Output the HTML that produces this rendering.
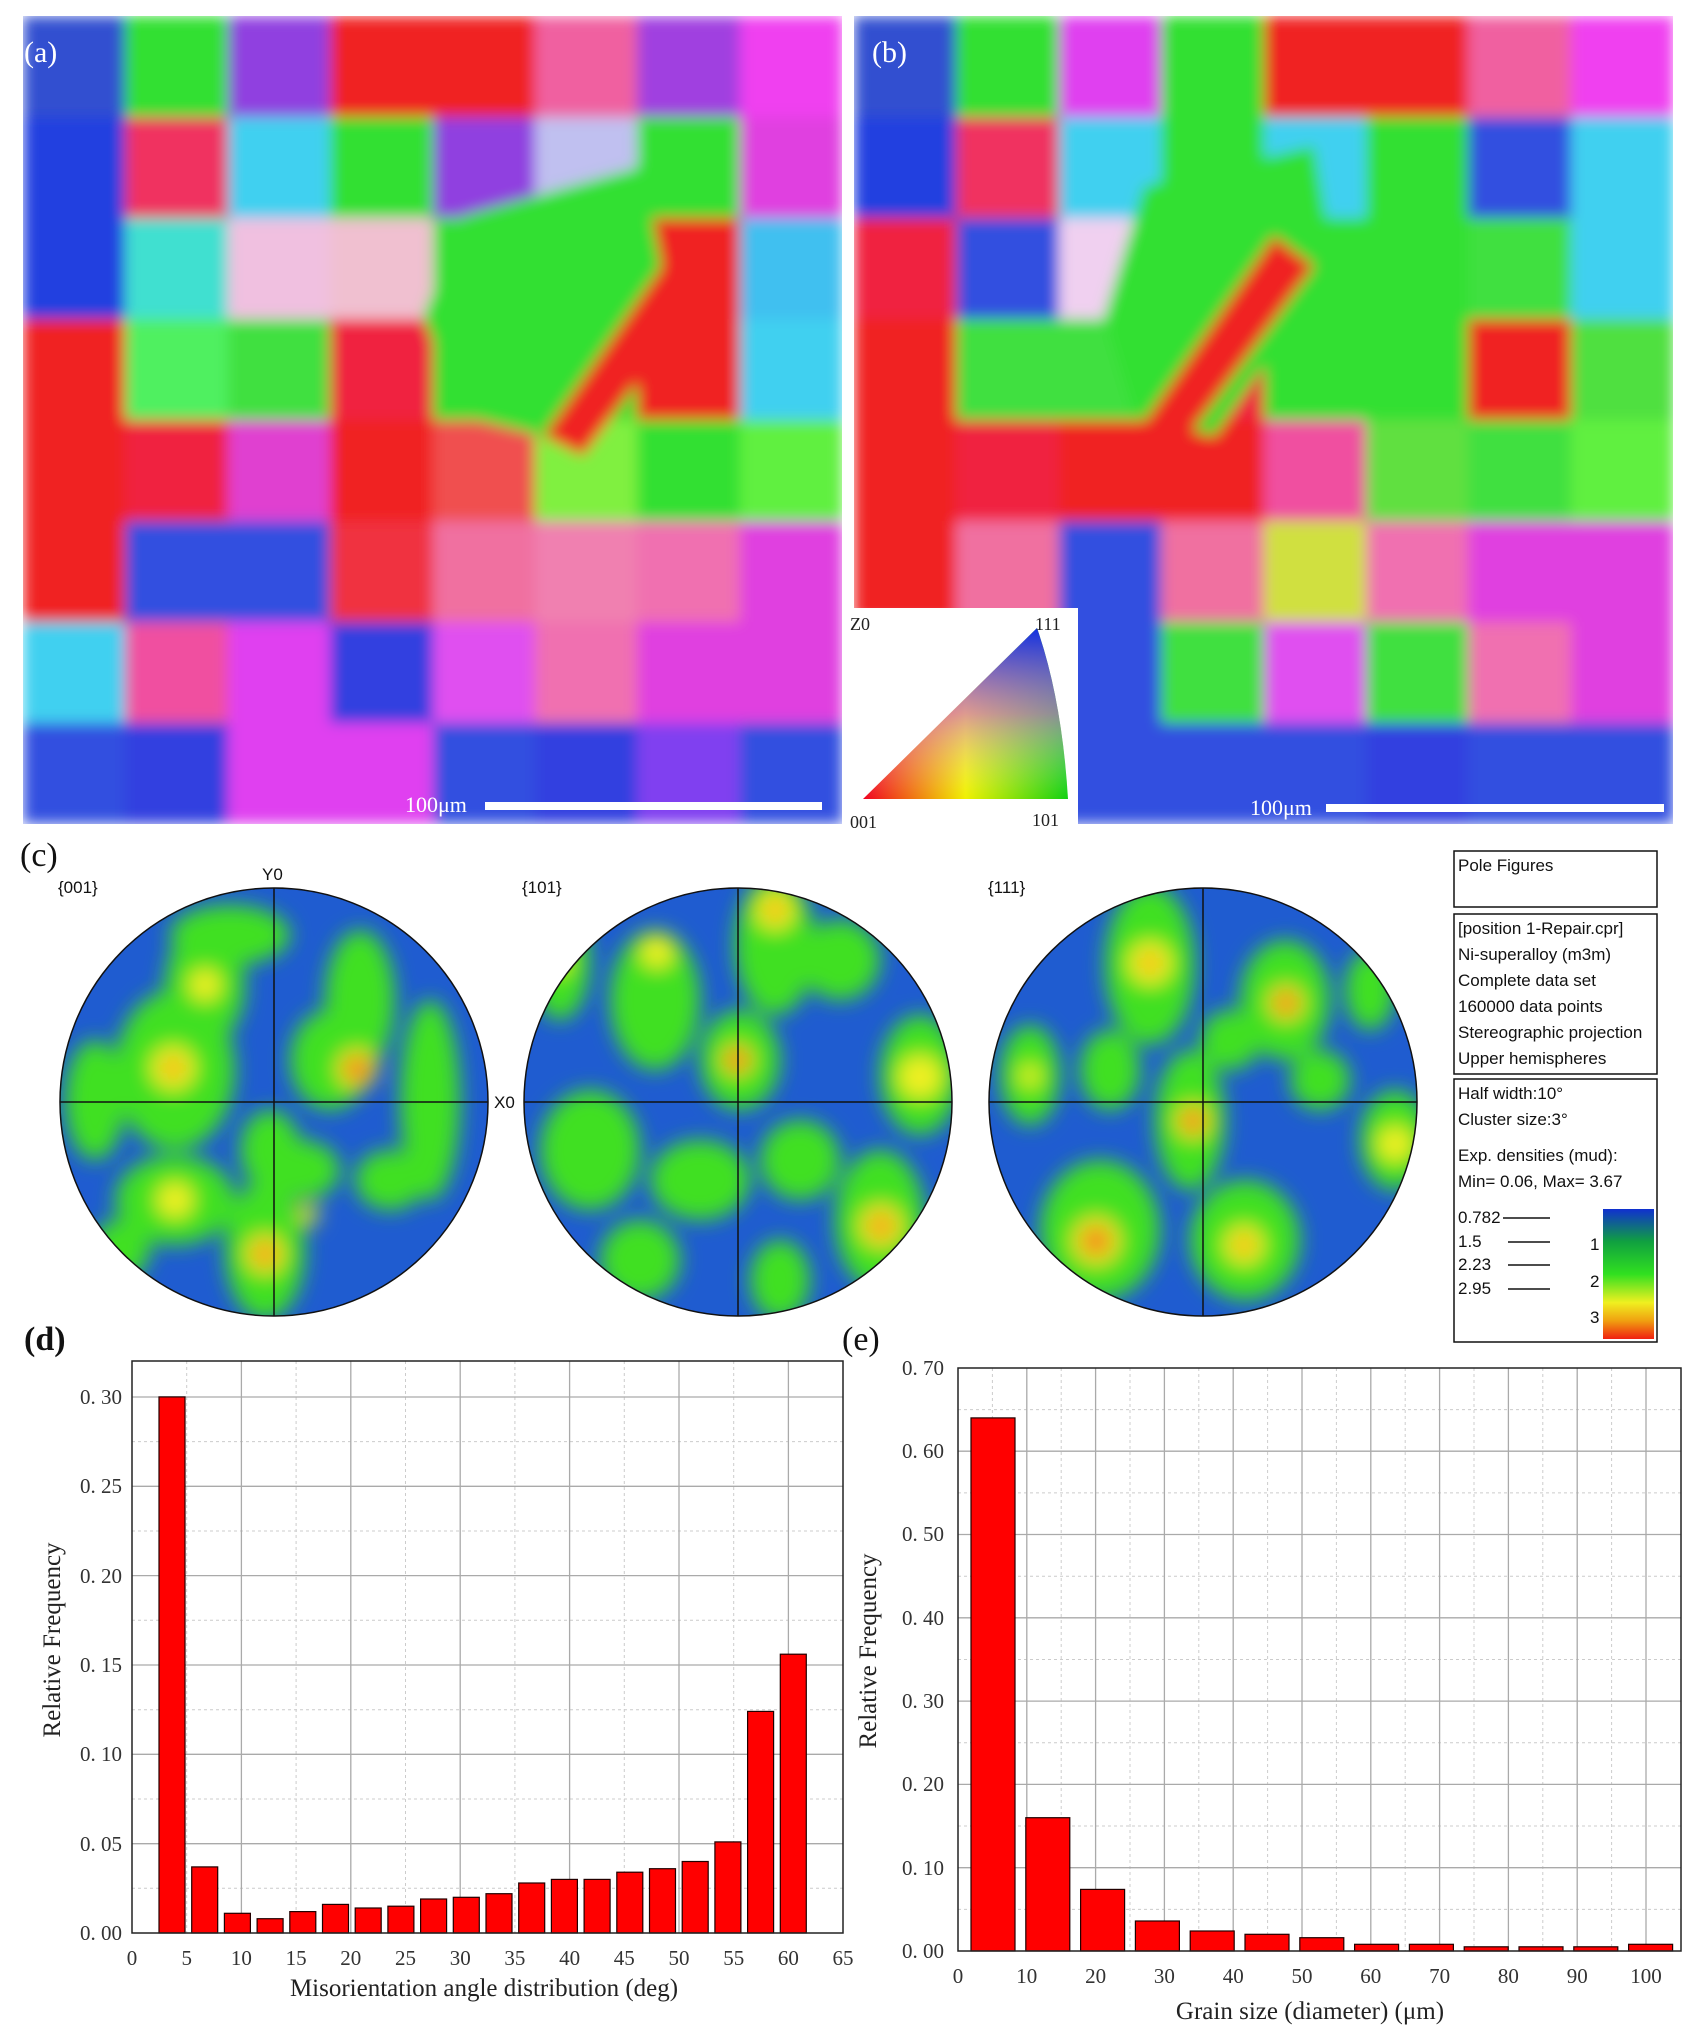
<!DOCTYPE html><html><head><meta charset="utf-8"><style>
body{margin:0;background:#fff;}
svg{display:block}
text{font-family:"Liberation Serif",serif;}
.t{font-family:"Liberation Sans",sans-serif;font-size:17px;fill:#111;}
.tk{font-family:"Liberation Serif",serif;font-size:21px;fill:#333;}
</style></head><body>
<svg width="1689" height="2044" viewBox="0 0 1689 2044" xmlns="http://www.w3.org/2000/svg">
<defs>
<filter id="bl" x="-5%" y="-5%" width="110%" height="110%"><feGaussianBlur stdDeviation="7"/></filter>
<filter id="pb" x="-20%" y="-20%" width="140%" height="140%"><feGaussianBlur stdDeviation="10"/></filter>
<clipPath id="ca"><rect x="23" y="16" width="819" height="808"/></clipPath>
<clipPath id="cb"><rect x="854" y="16" width="819" height="808"/></clipPath>
<clipPath id="p1"><circle cx="274" cy="1102" r="214"/></clipPath>
<clipPath id="p2"><circle cx="738" cy="1102" r="214"/></clipPath>
<clipPath id="p3"><circle cx="1203" cy="1102" r="214"/></clipPath>
<linearGradient id="cbar" x1="0" y1="0" x2="0" y2="1">
<stop offset="0" stop-color="#1030d0"/><stop offset="0.25" stop-color="#10a040"/><stop offset="0.5" stop-color="#30e020"/><stop offset="0.72" stop-color="#f0f020"/><stop offset="0.86" stop-color="#f0a010"/><stop offset="1" stop-color="#f02010"/></linearGradient>
<linearGradient id="ipf1" x1="0" y1="1" x2="1" y2="1"><stop offset="0" stop-color="#f00020"/><stop offset="0.5" stop-color="#f0f000"/><stop offset="1" stop-color="#10d010"/></linearGradient>
<linearGradient id="ipf2" x1="0" y1="1" x2="0" y2="0"><stop offset="0" stop-color="#fff" stop-opacity="0"/><stop offset="0.5" stop-color="#d060f0" stop-opacity="0.6"/><stop offset="1" stop-color="#1030e0" stop-opacity="1"/></linearGradient>
</defs>

<!-- map a -->
<g clip-path="url(#ca)"><g filter="url(#bl)">
<g transform="translate(23,16)">
<rect x="0" y="0" width="103" height="101" fill="#3050d0"/><rect x="102" y="0" width="103" height="101" fill="#30e030"/><rect x="205" y="0" width="103" height="101" fill="#9040e0"/><rect x="307" y="0" width="103" height="101" fill="#f02020"/><rect x="410" y="0" width="103" height="101" fill="#f02020"/><rect x="512" y="0" width="103" height="101" fill="#f060a0"/><rect x="614" y="0" width="103" height="101" fill="#a040e0"/><rect x="717" y="0" width="103" height="101" fill="#f040f0"/>
<rect x="0" y="101" width="103" height="101" fill="#2040e0"/><rect x="102" y="101" width="103" height="101" fill="#f03060"/><rect x="205" y="101" width="103" height="101" fill="#40d0f0"/><rect x="307" y="101" width="103" height="101" fill="#30e030"/><rect x="410" y="101" width="103" height="101" fill="#9040e0"/><rect x="512" y="101" width="103" height="101" fill="#c0c0f0"/><rect x="614" y="101" width="103" height="101" fill="#30e030"/><rect x="717" y="101" width="103" height="101" fill="#e040e0"/>
<rect x="0" y="202" width="103" height="101" fill="#2040e0"/><rect x="102" y="202" width="103" height="101" fill="#40e0d0"/><rect x="205" y="202" width="103" height="101" fill="#f0c0e0"/><rect x="307" y="202" width="103" height="101" fill="#f0c0d0"/><rect x="410" y="202" width="103" height="101" fill="#30e030"/><rect x="512" y="202" width="103" height="101" fill="#30e030"/><rect x="614" y="202" width="103" height="101" fill="#f02020"/><rect x="717" y="202" width="103" height="101" fill="#40c0f0"/>
<rect x="0" y="303" width="103" height="101" fill="#f02020"/><rect x="102" y="303" width="103" height="101" fill="#50f060"/><rect x="205" y="303" width="103" height="101" fill="#40e040"/><rect x="307" y="303" width="103" height="101" fill="#f02040"/><rect x="410" y="303" width="103" height="101" fill="#30e030"/><rect x="512" y="303" width="103" height="101" fill="#30e030"/><rect x="614" y="303" width="103" height="101" fill="#f02020"/><rect x="717" y="303" width="103" height="101" fill="#40d0f0"/>
<rect x="0" y="404" width="103" height="101" fill="#f02020"/><rect x="102" y="404" width="103" height="101" fill="#f02040"/><rect x="205" y="404" width="103" height="101" fill="#e040d0"/><rect x="307" y="404" width="103" height="101" fill="#f02020"/><rect x="410" y="404" width="103" height="101" fill="#f05050"/><rect x="512" y="404" width="103" height="101" fill="#80f040"/><rect x="614" y="404" width="103" height="101" fill="#30e030"/><rect x="717" y="404" width="103" height="101" fill="#60f040"/>
<rect x="0" y="505" width="103" height="101" fill="#f02020"/><rect x="102" y="505" width="103" height="101" fill="#3050e0"/><rect x="205" y="505" width="103" height="101" fill="#3050e0"/><rect x="307" y="505" width="103" height="101" fill="#f03040"/><rect x="410" y="505" width="103" height="101" fill="#f070a0"/><rect x="512" y="505" width="103" height="101" fill="#f080b0"/><rect x="614" y="505" width="103" height="101" fill="#f070b0"/><rect x="717" y="505" width="103" height="101" fill="#e040e0"/>
<rect x="0" y="606" width="103" height="101" fill="#40d0f0"/><rect x="102" y="606" width="103" height="101" fill="#f050a0"/><rect x="205" y="606" width="103" height="101" fill="#e040f0"/><rect x="307" y="606" width="103" height="101" fill="#3040e0"/><rect x="410" y="606" width="103" height="101" fill="#e050f0"/><rect x="512" y="606" width="103" height="101" fill="#f070b0"/><rect x="614" y="606" width="103" height="101" fill="#e040e0"/><rect x="717" y="606" width="103" height="101" fill="#e040e0"/>
<rect x="0" y="707" width="103" height="101" fill="#3050e0"/><rect x="102" y="707" width="103" height="101" fill="#3040e0"/><rect x="205" y="707" width="103" height="101" fill="#e040f0"/><rect x="307" y="707" width="103" height="101" fill="#e040f0"/><rect x="410" y="707" width="103" height="101" fill="#3050e0"/><rect x="512" y="707" width="103" height="101" fill="#3040e0"/><rect x="614" y="707" width="103" height="101" fill="#8040f0"/><rect x="717" y="707" width="103" height="101" fill="#3050e0"/>
<polygon points="440,200 620,150 640,260 520,420 440,400 400,300" fill="#30e030"/>
<polygon points="660,220 700,250 560,440 520,420" fill="#f02020"/>
</g></g></g>
<text x="24" y="62" font-size="30" fill="#fff">(a)</text>
<text x="405" y="812" font-size="22" fill="#fff">100μm</text>
<rect x="485" y="802" width="337" height="8" fill="#fff"/>

<!-- map b -->
<g clip-path="url(#cb)"><g filter="url(#bl)">
<g transform="translate(854,16)">
<rect x="0" y="0" width="103" height="101" fill="#3050d0"/><rect x="102" y="0" width="103" height="101" fill="#30e030"/><rect x="205" y="0" width="103" height="101" fill="#e040f0"/><rect x="307" y="0" width="103" height="101" fill="#30e030"/><rect x="410" y="0" width="103" height="101" fill="#f02020"/><rect x="512" y="0" width="103" height="101" fill="#f02020"/><rect x="614" y="0" width="103" height="101" fill="#f060a0"/><rect x="717" y="0" width="103" height="101" fill="#f040f0"/>
<rect x="0" y="101" width="103" height="101" fill="#2040e0"/><rect x="102" y="101" width="103" height="101" fill="#f03060"/><rect x="205" y="101" width="103" height="101" fill="#40d0f0"/><rect x="307" y="101" width="103" height="101" fill="#30e030"/><rect x="410" y="101" width="103" height="101" fill="#40d0f0"/><rect x="512" y="101" width="103" height="101" fill="#30e030"/><rect x="614" y="101" width="103" height="101" fill="#3050e0"/><rect x="717" y="101" width="103" height="101" fill="#40d0f0"/>
<rect x="0" y="202" width="103" height="101" fill="#f02040"/><rect x="102" y="202" width="103" height="101" fill="#3050e0"/><rect x="205" y="202" width="103" height="101" fill="#f0d0f0"/><rect x="307" y="202" width="103" height="101" fill="#40e040"/><rect x="410" y="202" width="103" height="101" fill="#30e030"/><rect x="512" y="202" width="103" height="101" fill="#30e030"/><rect x="614" y="202" width="103" height="101" fill="#40e040"/><rect x="717" y="202" width="103" height="101" fill="#40d0f0"/>
<rect x="0" y="303" width="103" height="101" fill="#f02020"/><rect x="102" y="303" width="103" height="101" fill="#40e040"/><rect x="205" y="303" width="103" height="101" fill="#40e040"/><rect x="307" y="303" width="103" height="101" fill="#f02040"/><rect x="410" y="303" width="103" height="101" fill="#30e030"/><rect x="512" y="303" width="103" height="101" fill="#30e030"/><rect x="614" y="303" width="103" height="101" fill="#f02020"/><rect x="717" y="303" width="103" height="101" fill="#50e040"/>
<rect x="0" y="404" width="103" height="101" fill="#f02020"/><rect x="102" y="404" width="103" height="101" fill="#f02040"/><rect x="205" y="404" width="103" height="101" fill="#f02020"/><rect x="307" y="404" width="103" height="101" fill="#f02020"/><rect x="410" y="404" width="103" height="101" fill="#f050a0"/><rect x="512" y="404" width="103" height="101" fill="#60e040"/><rect x="614" y="404" width="103" height="101" fill="#40e040"/><rect x="717" y="404" width="103" height="101" fill="#60f040"/>
<rect x="0" y="505" width="103" height="101" fill="#f02020"/><rect x="102" y="505" width="103" height="101" fill="#f070a0"/><rect x="205" y="505" width="103" height="101" fill="#3050e0"/><rect x="307" y="505" width="103" height="101" fill="#f070a0"/><rect x="410" y="505" width="103" height="101" fill="#d0e040"/><rect x="512" y="505" width="103" height="101" fill="#f070b0"/><rect x="614" y="505" width="103" height="101" fill="#e040e0"/><rect x="717" y="505" width="103" height="101" fill="#e040e0"/>
<rect x="0" y="606" width="103" height="101" fill="#40d0f0"/><rect x="102" y="606" width="103" height="101" fill="#f050a0"/><rect x="205" y="606" width="103" height="101" fill="#3050e0"/><rect x="307" y="606" width="103" height="101" fill="#40e040"/><rect x="410" y="606" width="103" height="101" fill="#e050f0"/><rect x="512" y="606" width="103" height="101" fill="#40e040"/><rect x="614" y="606" width="103" height="101" fill="#f070b0"/><rect x="717" y="606" width="103" height="101" fill="#e040e0"/>
<rect x="0" y="707" width="103" height="101" fill="#3050e0"/><rect x="102" y="707" width="103" height="101" fill="#3040e0"/><rect x="205" y="707" width="103" height="101" fill="#3050e0"/><rect x="307" y="707" width="103" height="101" fill="#3050e0"/><rect x="410" y="707" width="103" height="101" fill="#3050e0"/><rect x="512" y="707" width="103" height="101" fill="#3040e0"/><rect x="614" y="707" width="103" height="101" fill="#3050e0"/><rect x="717" y="707" width="103" height="101" fill="#3050e0"/>
<polygon points="290,170 460,130 480,250 360,420 280,400 250,300" fill="#30e030"/>
<polygon points="420,220 460,250 320,440 280,420" fill="#f02020"/>
</g></g></g>
<text x="872" y="62" font-size="30" fill="#fff">(b)</text>
<text x="1250" y="815" font-size="22" fill="#fff">100μm</text>
<rect x="1326" y="804" width="338" height="8" fill="#fff"/>
<!-- IPF inset -->
<rect x="845" y="608" width="233" height="224" fill="#fff"/>
<path d="M863,799 L1068,799 Q1062,700 1037,628 Z" fill="url(#ipf1)"/>
<path d="M863,799 L1068,799 Q1062,700 1037,628 Z" fill="url(#ipf2)"/>
<text x="850" y="630" font-size="18" fill="#222">Z0</text>
<text x="1035" y="630" font-size="18" fill="#222">111</text>
<text x="850" y="828" font-size="18" fill="#222">001</text>
<text x="1032" y="826" font-size="18" fill="#222">101</text>

<!-- (c) -->
<text x="20" y="866" font-size="34" fill="#111">(c)</text>
<text x="58" y="893" class="t">{001}</text>
<text x="262" y="880" class="t">Y0</text>
<text x="522" y="893" class="t">{101}</text>
<text x="988" y="893" class="t">{111}</text>
<text x="494" y="1108" class="t">X0</text>

<g clip-path="url(#p1)">
<rect x="50" y="880" width="450" height="450" fill="#1f5cd0"/>
<g filter="url(#pb)" fill="#40e020">
<ellipse cx="175" cy="1070" rx="60" ry="80"/><ellipse cx="205" cy="985" rx="40" ry="60"/><ellipse cx="330" cy="1060" rx="40" ry="50"/><ellipse cx="360" cy="1000" rx="35" ry="70"/><ellipse cx="175" cy="1200" rx="60" ry="45"/><ellipse cx="265" cy="1250" rx="40" ry="70"/><ellipse cx="300" cy="1170" rx="40" ry="30"/><ellipse cx="430" cy="1100" rx="30" ry="100"/><ellipse cx="95" cy="1100" rx="30" ry="60"/><ellipse cx="270" cy="1150" rx="30" ry="40"/><ellipse cx="390" cy="1180" rx="35" ry="30"/><ellipse cx="230" cy="935" rx="60" ry="30"/><ellipse cx="120" cy="1250" rx="30" ry="30"/>
<circle cx="173" cy="1068" r="22" fill="#f0f020"/><circle cx="357" cy="1069" r="20" fill="#f0e020"/><circle cx="205" cy="985" r="16" fill="#f0f020"/><circle cx="175" cy="1200" r="18" fill="#f0f020"/><circle cx="265" cy="1254" r="20" fill="#f0e020"/><circle cx="309" cy="1215" r="10" fill="#e0f020"/>
<circle cx="173" cy="1068" r="8" fill="#f06010"/><circle cx="357" cy="1069" r="10" fill="#f02010"/><circle cx="265" cy="1254" r="9" fill="#f07010"/></g>
</g>
<g clip-path="url(#p2)">
<rect x="510" y="880" width="460" height="450" fill="#1f5cd0"/>
<g filter="url(#pb)" fill="#40e020">
<ellipse cx="775" cy="945" rx="40" ry="70"/><ellipse cx="655" cy="1000" rx="45" ry="70"/><ellipse cx="740" cy="1060" rx="40" ry="50"/><ellipse cx="920" cy="1075" rx="40" ry="60"/><ellipse cx="880" cy="1220" rx="45" ry="70"/><ellipse cx="700" cy="1180" rx="50" ry="40"/><ellipse cx="590" cy="1150" rx="50" ry="60"/><ellipse cx="800" cy="1160" rx="40" ry="40"/><ellipse cx="840" cy="960" rx="40" ry="40"/><ellipse cx="560" cy="960" rx="30" ry="60"/><ellipse cx="640" cy="1260" rx="40" ry="40"/><ellipse cx="780" cy="1280" rx="30" ry="40"/>
<circle cx="775" cy="910" r="20" fill="#f0f020"/><circle cx="737" cy="1060" r="16" fill="#f0e020"/><circle cx="657" cy="952" r="16" fill="#f0f020"/><circle cx="920" cy="1077" r="22" fill="#f0f020"/><circle cx="881" cy="1226" r="22" fill="#f0e020"/><circle cx="559" cy="962" r="12" fill="#e0f020"/>
<circle cx="775" cy="910" r="8" fill="#f08010"/><circle cx="737" cy="1060" r="9" fill="#f02010"/><circle cx="881" cy="1226" r="9" fill="#f07010"/></g>
</g>
<g clip-path="url(#p3)">
<rect x="980" y="880" width="450" height="450" fill="#1f5cd0"/>
<g filter="url(#pb)" fill="#40e020">
<ellipse cx="1150" cy="965" rx="45" ry="80"/><ellipse cx="1285" cy="1000" rx="45" ry="60"/><ellipse cx="1190" cy="1120" rx="35" ry="70"/><ellipse cx="1100" cy="1230" rx="60" ry="70"/><ellipse cx="1245" cy="1240" rx="55" ry="60"/><ellipse cx="1395" cy="1140" rx="35" ry="50"/><ellipse cx="1030" cy="1075" rx="30" ry="50"/><ellipse cx="1320" cy="1080" rx="30" ry="30"/><ellipse cx="1110" cy="1070" rx="30" ry="40"/><ellipse cx="1370" cy="990" rx="25" ry="40"/><ellipse cx="1230" cy="1040" rx="30" ry="30"/>
<circle cx="1150" cy="963" r="22" fill="#f0f020"/><circle cx="1286" cy="1003" r="18" fill="#f0e020"/><circle cx="1193" cy="1121" r="18" fill="#f0e020"/><circle cx="1096" cy="1241" r="24" fill="#f0e020"/><circle cx="1244" cy="1245" r="20" fill="#f0f020"/><circle cx="1395" cy="1144" r="18" fill="#f0f020"/><circle cx="1030" cy="1076" r="12" fill="#e0f020"/>
<circle cx="1150" cy="963" r="8" fill="#f08010"/><circle cx="1286" cy="1003" r="9" fill="#f03010"/><circle cx="1193" cy="1121" r="9" fill="#f02010"/><circle cx="1096" cy="1241" r="11" fill="#f02010"/><circle cx="1244" cy="1245" r="8" fill="#f08010"/></g>
</g>
<g stroke="#111" stroke-width="1.5" fill="none">
<circle cx="274" cy="1102" r="214"/><line x1="60" y1="1102" x2="488" y2="1102"/><line x1="274" y1="888" x2="274" y2="1316"/>
<circle cx="738" cy="1102" r="214"/><line x1="524" y1="1102" x2="952" y2="1102"/><line x1="738" y1="888" x2="738" y2="1316"/>
<circle cx="1203" cy="1102" r="214"/><line x1="989" y1="1102" x2="1417" y2="1102"/><line x1="1203" y1="888" x2="1203" y2="1316"/>
</g>
<!-- legend -->
<g fill="none" stroke="#111" stroke-width="1.5">
<rect x="1454" y="851" width="203" height="56"/><rect x="1454" y="914" width="203" height="160"/><rect x="1454" y="1079" width="203" height="263"/></g>
<text x="1458" y="871" class="t">Pole Figures</text>
<text x="1458" y="934" class="t">[position 1-Repair.cpr]</text>
<text x="1458" y="960" class="t">Ni-superalloy (m3m)</text>
<text x="1458" y="986" class="t">Complete data set</text>
<text x="1458" y="1012" class="t">160000 data points</text>
<text x="1458" y="1038" class="t">Stereographic projection</text>
<text x="1458" y="1064" class="t">Upper hemispheres</text>
<text x="1458" y="1099" class="t">Half width:10°</text>
<text x="1458" y="1125" class="t">Cluster size:3°</text>
<text x="1458" y="1161" class="t">Exp. densities (mud):</text>
<text x="1458" y="1187" class="t">Min= 0.06, Max= 3.67</text>
<text x="1458" y="1223" class="t">0.782</text><text x="1458" y="1247" class="t">1.5</text><text x="1458" y="1270" class="t">2.23</text><text x="1458" y="1294" class="t">2.95</text>
<g stroke="#111" stroke-width="1.5"><line x1="1503" y1="1218" x2="1550" y2="1218"/><line x1="1508" y1="1242" x2="1550" y2="1242"/><line x1="1508" y1="1265" x2="1550" y2="1265"/><line x1="1508" y1="1289" x2="1550" y2="1289"/></g>
<rect x="1603" y="1209" width="51" height="130" fill="url(#cbar)"/>
<text x="1590" y="1250" class="t">1</text><text x="1590" y="1287" class="t">2</text><text x="1590" y="1323" class="t">3</text>

<!-- (d) chart -->
<text x="24" y="1350" font-size="34" font-weight="bold" fill="#111">(d)</text>
<rect x="132" y="1361" width="711" height="572" fill="#fff"/>
<g stroke="#ccc" stroke-width="1" stroke-dasharray="3,3">
<line x1="132" y1="1888.3" x2="843" y2="1888.3"/><line x1="132" y1="1799" x2="843" y2="1799"/><line x1="132" y1="1709.7" x2="843" y2="1709.7"/><line x1="132" y1="1620.3" x2="843" y2="1620.3"/><line x1="132" y1="1531" x2="843" y2="1531"/><line x1="132" y1="1441.6" x2="843" y2="1441.6"/>
<line x1="186.7" y1="1361" x2="186.7" y2="1933"/><line x1="296.1" y1="1361" x2="296.1" y2="1933"/><line x1="405.5" y1="1361" x2="405.5" y2="1933"/><line x1="514.9" y1="1361" x2="514.9" y2="1933"/><line x1="624.3" y1="1361" x2="624.3" y2="1933"/><line x1="733.7" y1="1361" x2="733.7" y2="1933"/></g>
<g stroke="#aaa" stroke-width="1.3">
<line x1="132" y1="1843.7" x2="843" y2="1843.7"/><line x1="132" y1="1754.3" x2="843" y2="1754.3"/><line x1="132" y1="1665" x2="843" y2="1665"/><line x1="132" y1="1575.6" x2="843" y2="1575.6"/><line x1="132" y1="1486.3" x2="843" y2="1486.3"/><line x1="132" y1="1397" x2="843" y2="1397"/>
<line x1="241.4" y1="1361" x2="241.4" y2="1933"/><line x1="350.8" y1="1361" x2="350.8" y2="1933"/><line x1="460.2" y1="1361" x2="460.2" y2="1933"/><line x1="569.6" y1="1361" x2="569.6" y2="1933"/><line x1="679" y1="1361" x2="679" y2="1933"/><line x1="788.4" y1="1361" x2="788.4" y2="1933"/></g>
<g fill="#ff0000" stroke="#200" stroke-width="1.2">
<rect x="159" y="1396.9" width="26" height="536.1"/><rect x="191.7" y="1866.9" width="26" height="66.1"/><rect x="224.4" y="1913.3" width="26" height="19.7"/><rect x="257.1" y="1918.7" width="26" height="14.3"/><rect x="289.8" y="1911.6" width="26" height="21.4"/><rect x="322.5" y="1904.4" width="26" height="28.6"/><rect x="355.2" y="1908" width="26" height="25"/><rect x="387.9" y="1906.2" width="26" height="26.8"/><rect x="420.6" y="1899" width="26" height="34"/><rect x="453.3" y="1897.3" width="26" height="35.7"/><rect x="486" y="1893.7" width="26" height="39.3"/><rect x="518.7" y="1883" width="26" height="50"/><rect x="551.4" y="1879.4" width="26" height="53.6"/><rect x="584.1" y="1879.4" width="26" height="53.6"/><rect x="616.8" y="1872.2" width="26" height="60.8"/><rect x="649.5" y="1868.7" width="26" height="64.3"/><rect x="682.2" y="1861.5" width="26" height="71.5"/><rect x="714.9" y="1841.9" width="26" height="91.1"/><rect x="747.6" y="1711.4" width="26" height="221.6"/><rect x="780.3" y="1654.2" width="26" height="278.8"/></g>
<rect x="132" y="1361" width="711" height="572" fill="none" stroke="#222" stroke-width="1.5"/>
<g class="tk" text-anchor="end">
<text x="122" y="1940">0. 00</text><text x="122" y="1851">0. 05</text><text x="122" y="1761">0. 10</text><text x="122" y="1672">0. 15</text><text x="122" y="1583">0. 20</text><text x="122" y="1493">0. 25</text><text x="122" y="1404">0. 30</text></g>
<g class="tk" text-anchor="middle">
<text x="132" y="1965">0</text><text x="186.7" y="1965">5</text><text x="241.4" y="1965">10</text><text x="296.1" y="1965">15</text><text x="350.8" y="1965">20</text><text x="405.5" y="1965">25</text><text x="460.2" y="1965">30</text><text x="514.9" y="1965">35</text><text x="569.6" y="1965">40</text><text x="624.3" y="1965">45</text><text x="679" y="1965">50</text><text x="733.7" y="1965">55</text><text x="788.4" y="1965">60</text><text x="843" y="1965">65</text></g>
<text x="484" y="1996" font-size="25" text-anchor="middle" fill="#222">Misorientation angle distribution (deg)</text>
<text transform="translate(60,1640) rotate(-90)" font-size="25" text-anchor="middle" fill="#222">Relative Frequency</text>

<!-- (e) chart -->
<text x="842" y="1350" font-size="34" fill="#111">(e)</text>
<g stroke="#ccc" stroke-width="1" stroke-dasharray="3,3">
<line x1="958" y1="1909.4" x2="1681" y2="1909.4"/><line x1="958" y1="1826" x2="1681" y2="1826"/><line x1="958" y1="1742.8" x2="1681" y2="1742.8"/><line x1="958" y1="1659.5" x2="1681" y2="1659.5"/><line x1="958" y1="1576.2" x2="1681" y2="1576.2"/><line x1="958" y1="1492.9" x2="1681" y2="1492.9"/><line x1="958" y1="1409.6" x2="1681" y2="1409.6"/>
<line x1="992.4" y1="1368" x2="992.4" y2="1951"/><line x1="1061.2" y1="1368" x2="1061.2" y2="1951"/><line x1="1130" y1="1368" x2="1130" y2="1951"/><line x1="1198.8" y1="1368" x2="1198.8" y2="1951"/><line x1="1267.6" y1="1368" x2="1267.6" y2="1951"/><line x1="1336.4" y1="1368" x2="1336.4" y2="1951"/><line x1="1405.2" y1="1368" x2="1405.2" y2="1951"/><line x1="1474" y1="1368" x2="1474" y2="1951"/><line x1="1542.8" y1="1368" x2="1542.8" y2="1951"/><line x1="1611.6" y1="1368" x2="1611.6" y2="1951"/></g>
<g stroke="#aaa" stroke-width="1.3">
<line x1="958" y1="1867.7" x2="1681" y2="1867.7"/><line x1="958" y1="1784.4" x2="1681" y2="1784.4"/><line x1="958" y1="1701.1" x2="1681" y2="1701.1"/><line x1="958" y1="1617.8" x2="1681" y2="1617.8"/><line x1="958" y1="1534.5" x2="1681" y2="1534.5"/><line x1="958" y1="1451.2" x2="1681" y2="1451.2"/>
<line x1="1026.8" y1="1368" x2="1026.8" y2="1951"/><line x1="1095.6" y1="1368" x2="1095.6" y2="1951"/><line x1="1164.4" y1="1368" x2="1164.4" y2="1951"/><line x1="1233.2" y1="1368" x2="1233.2" y2="1951"/><line x1="1302" y1="1368" x2="1302" y2="1951"/><line x1="1370.8" y1="1368" x2="1370.8" y2="1951"/><line x1="1439.6" y1="1368" x2="1439.6" y2="1951"/><line x1="1508.4" y1="1368" x2="1508.4" y2="1951"/><line x1="1577.2" y1="1368" x2="1577.2" y2="1951"/><line x1="1646" y1="1368" x2="1646" y2="1951"/></g>
<g fill="#ff0000" stroke="#200" stroke-width="1.2">
<rect x="971" y="1417.9" width="44" height="533.1"/><rect x="1025.8" y="1817.7" width="44" height="133.3"/><rect x="1080.6" y="1889.4" width="44" height="61.6"/><rect x="1135.4" y="1921" width="44" height="30"/><rect x="1190.2" y="1931" width="44" height="20"/><rect x="1245" y="1934.3" width="44" height="16.7"/><rect x="1299.8" y="1937.7" width="44" height="13.3"/><rect x="1354.6" y="1944.3" width="44" height="6.7"/><rect x="1409.4" y="1944.3" width="44" height="6.7"/><rect x="1464.2" y="1946.8" width="44" height="4.2"/><rect x="1519" y="1946.8" width="44" height="4.2"/><rect x="1573.8" y="1946.8" width="44" height="4.2"/><rect x="1628.6" y="1944.3" width="44" height="6.7"/></g>
<rect x="958" y="1368" width="723" height="583" fill="none" stroke="#222" stroke-width="1.5"/>
<g class="tk" text-anchor="end">
<text x="944" y="1958">0. 00</text><text x="944" y="1875">0. 10</text><text x="944" y="1791">0. 20</text><text x="944" y="1708">0. 30</text><text x="944" y="1625">0. 40</text><text x="944" y="1541">0. 50</text><text x="944" y="1458">0. 60</text><text x="944" y="1375">0. 70</text></g>
<g class="tk" text-anchor="middle">
<text x="958" y="1983">0</text><text x="1026.8" y="1983">10</text><text x="1095.6" y="1983">20</text><text x="1164.4" y="1983">30</text><text x="1233.2" y="1983">40</text><text x="1302" y="1983">50</text><text x="1370.8" y="1983">60</text><text x="1439.6" y="1983">70</text><text x="1508.4" y="1983">80</text><text x="1577.2" y="1983">90</text><text x="1646" y="1983">100</text></g>
<text x="1310" y="2019" font-size="25" text-anchor="middle" fill="#222">Grain size (diameter) (μm)</text>
<text transform="translate(876,1651) rotate(-90)" font-size="25" text-anchor="middle" fill="#222">Relative Frequency</text>
</svg>
</body></html>
